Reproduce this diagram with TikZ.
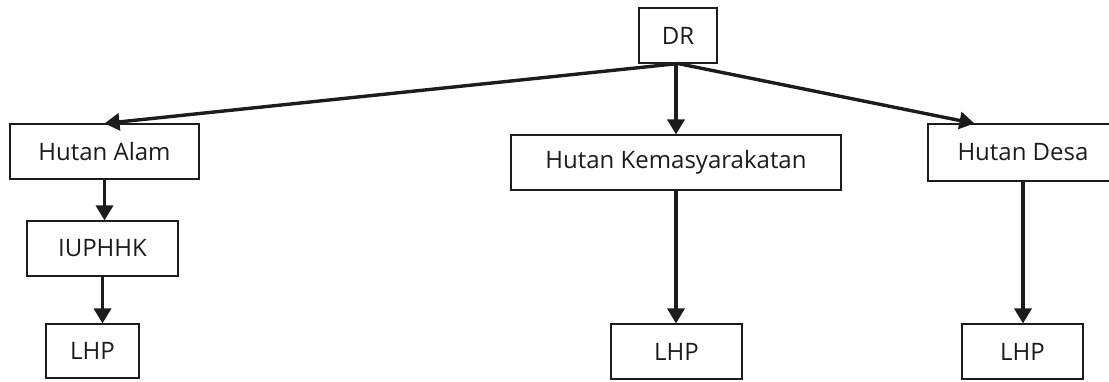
\documentclass[tikz,border=0pt]{standalone}
\usepackage{fontspec}
\setmainfont{Open Sans}
\usetikzlibrary{arrows.meta,calc}
\definecolor{ink}{HTML}{1C1C1C}
\tikzset{
  box/.style={draw=ink, line width=1.1pt, rectangle, inner sep=0pt, text=ink,
    font=\fontsize{24pt}{27pt}\selectfont},
  arr/.style={draw=ink, line width=3.4pt, -{Triangle[length=15pt,width=17pt]}}
}
\begin{document}
\begin{tikzpicture}[x=1pt,y=-1pt]
\useasboundingbox (0,0) rectangle (1109,381);
\clip (0,0) rectangle (1109,381);
\fill[white] (0,0) rectangle (1109,381);
\node[box, minimum width=78pt, minimum height=55pt] (DR) at (678,35.5) {DR};
\node[box, minimum width=189pt, minimum height=55pt] (HA) at (104.5,151.5) {Hutan Alam};
\node[box, minimum width=151pt, minimum height=55pt] (IU) at (102.5,248.5) {IUPHHK};
\node[box, minimum width=93pt, minimum height=54pt] (L1) at (92.5,351) {LHP};
\node[box, minimum width=330pt, minimum height=55pt] (HK) at (676,162.5) {Hutan Kemasyarakatan};
\node[box, minimum width=131pt, minimum height=55pt] (L2) at (676.5,351.5) {LHP};
\node[box, minimum width=190pt, minimum height=57pt] (HD) at (1023,152.5) {Hutan Desa};
\node[box, minimum width=121pt, minimum height=55pt] (L3) at (1022.5,351.5) {LHP};
\draw[arr] (DR.south) -- (HA.north);
\draw[arr] (DR.south -| HK.north) -- (HK.north);
\draw[arr] (DR.south) -- ($(HD.north west)+(47,0)$);
\draw[arr] (HA.south) -- (HA.south |- IU.north);
\draw[arr] (IU.south) -- (IU.south |- L1.north);
\draw[arr] (HK.south) -- (HK.south |- L2.north);
\draw[arr] (HD.south) -- (HD.south |- L3.north);
\end{tikzpicture}
\end{document}
